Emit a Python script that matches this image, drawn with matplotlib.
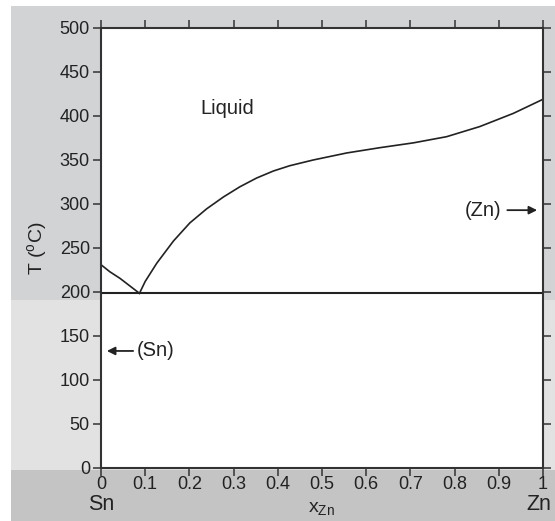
import matplotlib
matplotlib.use("Agg")
import matplotlib.pyplot as plt
from matplotlib.patches import Rectangle

plt.rcParams['font.family'] = ['Liberation Sans', 'DejaVu Sans']

# Liquidus on the Sn-rich side (x_Zn, T in °C)
sn_x = [0.0, 0.02, 0.043, 0.065, 0.087]
sn_T = [231, 223, 215.5, 207, 198.5]

# Liquidus on the Zn-rich side
zn_x = [0.087, 0.10, 0.126, 0.164, 0.201, 0.239, 0.277, 0.314, 0.352, 0.39, 0.427,
        0.48, 0.556, 0.631, 0.707, 0.782, 0.857, 0.933, 1.0]
zn_T = [198.5, 212, 232.6, 258, 278.5, 294.5, 308, 319.5, 329.5, 337.5, 343.5,
        350, 358, 364, 369.5, 376.5, 388, 403, 419]

eutectic_T = 198.5

x_ticks = [0, 0.1, 0.2, 0.3, 0.4, 0.5, 0.6, 0.7, 0.8, 0.9, 1]
x_ticklabels = ['0', '0.1', '0.2', '0.3', '0.4', '0.5', '0.6', '0.7', '0.8', '0.9', '1']
y_ticks = [0, 50, 100, 150, 200, 250, 300, 350, 400, 450, 500]

W, H = 555, 521
fig = plt.figure(figsize=(W / 100, H / 100), dpi=100, facecolor='white')

# background bands
fig.patches.append(Rectangle((11 / W, 1 - 300 / H), 1, (300 - 6) / H,
                             transform=fig.transFigure, facecolor='#d2d3d5', edgecolor='none', zorder=-10))
fig.patches.append(Rectangle((11 / W, 1 - 470 / H), 1, (470 - 300) / H,
                             transform=fig.transFigure, facecolor='#e2e2e2', edgecolor='none', zorder=-10))
fig.patches.append(Rectangle((11 / W, 0), 1, (521 - 470) / H,
                             transform=fig.transFigure, facecolor='#c4c4c4', edgecolor='none', zorder=-10))

ax = fig.add_axes([101 / W, 1 - 468 / H, 442 / W, 440 / H])
ax.set_facecolor('white')

lc = '#222222'
ax.plot(sn_x, sn_T, color=lc, lw=1.2, solid_joinstyle='round')
ax.plot(zn_x, zn_T, color=lc, lw=1.2, solid_joinstyle='round')
ax.axhline(eutectic_T, color=lc, lw=1.5)

ax.set_xlim(0, 1)
ax.set_ylim(0, 500)
ax.set_xticks(x_ticks)
ax.set_xticklabels(x_ticklabels)
ax.set_yticks(y_ticks)

for s in ax.spines.values():
    s.set_color('#333333')
    s.set_linewidth(1.5)

ax.tick_params(axis='both', which='major', direction='out', length=6, width=1.1,
               color='#333333', labelsize=13, labelcolor='#222222',
               top=True, right=True, labeltop=False, labelright=False)
ax.tick_params(axis='x', pad=0)
ax.tick_params(axis='y', pad=2)

ax.set_ylabel('T ($\\mathregular{^{o}}$C)', fontsize=14, color='#222222', labelpad=8)
ax.set_xlabel('x$_{\\mathregular{Zn}}$', fontsize=14, color='#222222', labelpad=5)

ax.text(0.224, 409, 'Liquid', fontsize=14.5, color='#222222', va='center', ha='left')

# (Zn) arrow
ax.text(0.905, 293, '(Zn)', fontsize=14.5, color='#222222', va='center', ha='right')
ax.annotate('', xy=(0.993, 293), xytext=(0.913, 293),
            arrowprops=dict(arrowstyle='-|>', color='#222222', lw=1.3, mutation_scale=12))

# (Sn) arrow
ax.text(0.081, 133, '(Sn)', fontsize=14.5, color='#222222', va='center', ha='left')
ax.annotate('', xy=(0.007, 133), xytext=(0.079, 133),
            arrowprops=dict(arrowstyle='-|>', color='#222222', lw=1.3, mutation_scale=12))

# component labels
ax.text(0.0, -0.084, 'Sn', transform=ax.get_xaxis_transform(), fontsize=15.5,
        color='#222222', ha='center', va='center', clip_on=False)
ax.text(0.99, -0.084, 'Zn', transform=ax.get_xaxis_transform(), fontsize=15.5,
        color='#222222', ha='center', va='center', clip_on=False)

fig.savefig('out.png', dpi=100, facecolor=fig.get_facecolor())
